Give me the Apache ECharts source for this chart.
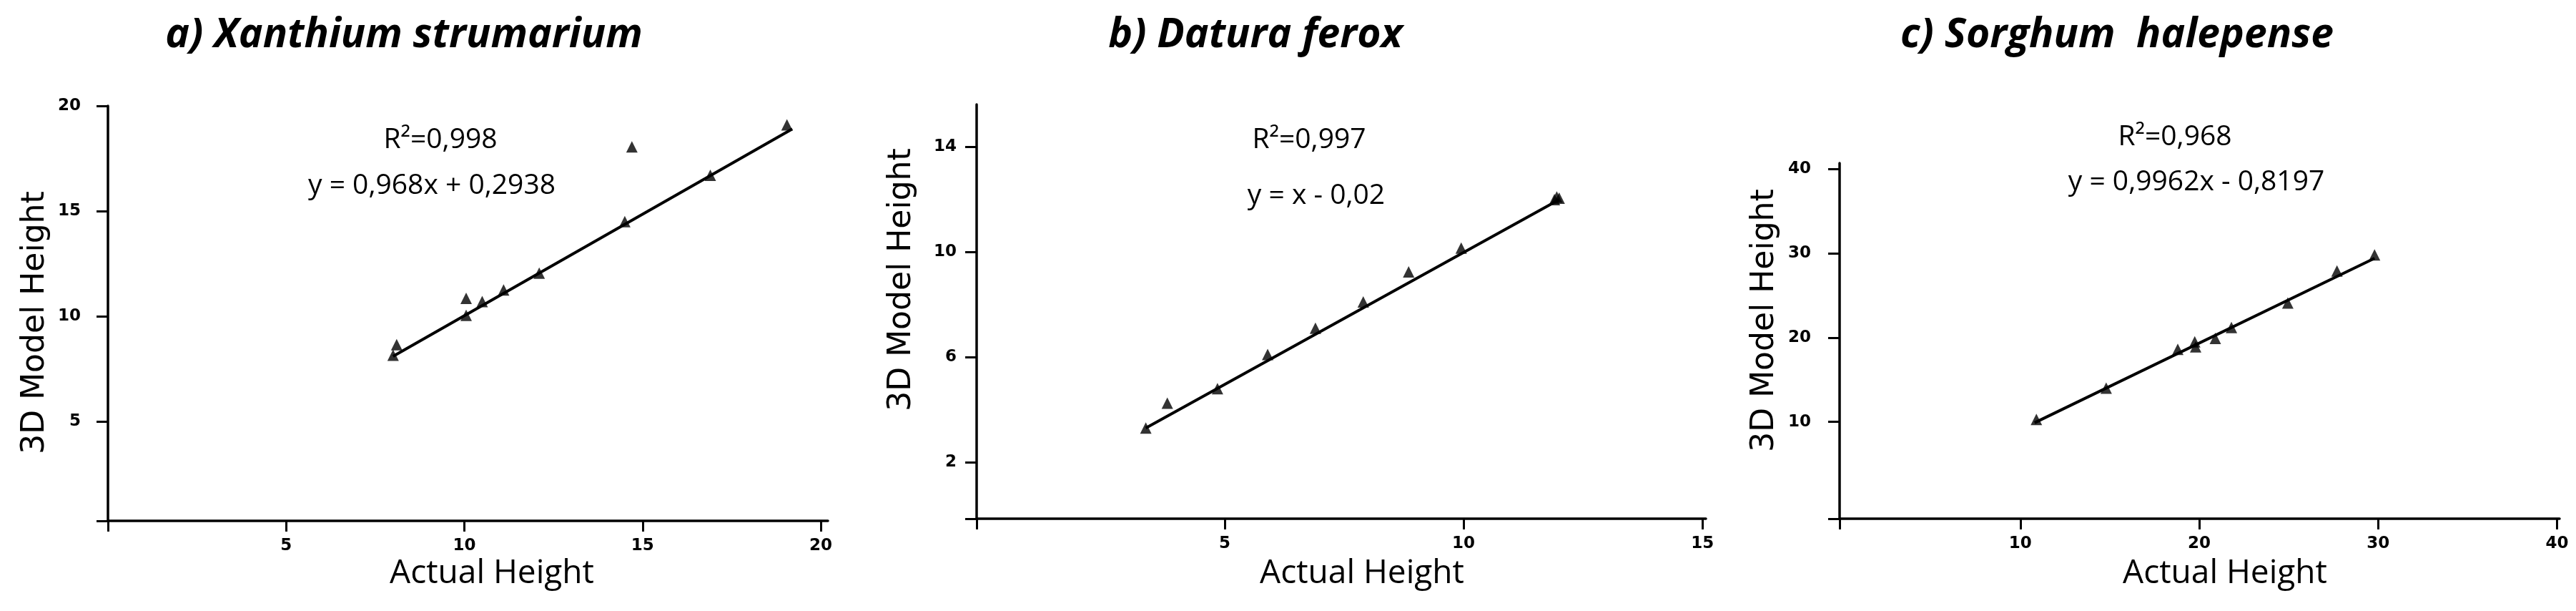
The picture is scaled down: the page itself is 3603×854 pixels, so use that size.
<!DOCTYPE html>
<html>
<head>
<meta charset="utf-8">
<script src="https://cdn.jsdelivr.net/npm/echarts@6/dist/echarts.min.js"></script>
<style>
  html, body { margin: 0; padding: 0; background: #fff; }
  #chart { width: 3603px; height: 854px; }
</style>
</head>
<body>
<div id="chart"></div>
<script>
// a) Xanthium strumarium
const aActual = [8.0, 8.1, 10.05, 10.05, 10.5, 11.1, 12.1, 14.5, 14.7, 16.9, 19.05];
const aModel  = [8.15, 8.65, 10.85, 10.05, 10.7, 11.25, 12.05, 14.5, 18.05, 16.7, 19.1];
const aFitX = [8.0, 19.2];
const aFitY = [8.1, 18.9];
const aXLabels = [5, 10, 15, 20];
const aYLabels = [5, 10, 15, 20];

// b) Datura ferox
const bActual = [3.35, 3.8, 4.85, 5.9, 6.9, 7.9, 8.85, 9.95, 11.9, 11.95, 12.0];
const bModel  = [3.3, 4.25, 4.8, 6.1, 7.1, 8.1, 9.25, 10.15, 12.0, 12.1, 12.05];
const bFitX = [3.35, 12.0];
const bFitY = [3.3, 12.0];
const bXLabels = [5, 10, 15];
const bYLabels = [2, 6, 10, 14];

// c) Sorghum halepense
const cActual = [10.9, 14.8, 18.8, 19.75, 19.8, 20.9, 21.8, 24.95, 27.7, 29.8];
const cModel  = [10.3, 14.0, 18.6, 19.5, 18.9, 19.9, 21.2, 24.1, 27.9, 29.8];
const cFitX = [10.8, 29.8];
const cFitY = [9.9, 29.4];
const cXLabels = [10, 20, 30, 40];
const cYLabels = [10, 20, 30, 40];

const titles = ['a) Xanthium strumarium', 'b) Datura ferox', 'c) Sorghum  halepense'];
const r2Texts = ['R²=0,998', 'R²=0,997', 'R²=0,968'];
const eqTexts = ['y = 0,968x + 0,2938', 'y = x - 0,02', 'y = 0,9962x - 0,8197'];

const panels = [
  { xs: aActual, ys: aModel, fx: aFitX, fy: aFitY, xl: aXLabels, yl: aYLabels,
    grid: { left: 151, top: 148, width: 1007, height: 580 }, xr: [0, 20.2], yr: [0.28, 20], ym: 38 },
  { xs: bActual, ys: bModel, fx: bFitX, fy: bFitY, xl: bXLabels, yl: bYLabels,
    grid: { left: 1366, top: 146, width: 1020, height: 579 }, xr: [-0.19, 15.07], yr: [-0.15, 15.62], ym: 28 },
  { xs: cActual, ys: cModel, fx: cFitX, fy: cFitY, xl: cXLabels, yl: cYLabels,
    grid: { left: 2573, top: 228, width: 1007, height: 497 }, xr: [-0.1, 40.14], yr: [-1.48, 40.68], ym: 40 }
];

// text anchors (centre points) for each panel
const txtPos = [
  { t: [565, 50], r2: [616, 196], eq: [604, 260], ax: [688, 802], ay: [50, 451] },
  { t: [1756, 50], r2: [1831, 196], eq: [1841, 274], ax: [1905, 802], ay: [1262, 391] },
  { t: [2961, 50], r2: [3042, 192], eq: [3072, 255], ax: [3112, 802], ay: [2469, 448] }
];

const line = { lineStyle: { color: '#000', width: 3.5 } };
const tickFont = { color: '#000', fontFamily: 'DejaVu Sans', fontWeight: 'bold', fontSize: 23 };

const grid = [], xAxis = [], yAxis = [], series = [], graphic = [];
panels.forEach((p, i) => {
  grid.push(Object.assign({ outerBoundsMode: 'none' }, p.grid));
  xAxis.push({
    type: 'value', gridIndex: i, min: p.xr[0], max: p.xr[1],
    axisLine: Object.assign({ onZero: false }, line),
    axisTick: { length: 15, lineStyle: { color: '#000', width: 3 }, customValues: [p.xr[0]].concat(p.xl) },
    axisLabel: Object.assign({ margin: 24, customValues: p.xl }, tickFont),
    splitLine: { show: false }
  });
  yAxis.push({
    type: 'value', gridIndex: i, min: p.yr[0], max: p.yr[1],
    axisLine: Object.assign({ onZero: false }, line),
    axisTick: { length: 16, lineStyle: { color: '#000', width: 3 }, customValues: [p.yr[0]].concat(p.yl) },
    axisLabel: Object.assign({ margin: p.ym, customValues: p.yl }, tickFont),
    splitLine: { show: false }
  });
  series.push({
    type: 'line', xAxisIndex: i, yAxisIndex: i, symbol: 'none', silent: true,
    lineStyle: { color: '#000', width: 4 },
    data: p.fx.map((x, k) => [x, p.fy[k]])
  });
  series.push({
    type: 'scatter', xAxisIndex: i, yAxisIndex: i, symbol: 'triangle', symbolSize: 16,
    itemStyle: { color: '#000' },
    data: p.xs.map((x, k) => [x, p.ys[k]])
  });

  const tp = txtPos[i];
  graphic.push({ type: 'text', x: tp.t[0], y: tp.t[1],
    style: { text: titles[i], font: 'italic bold 57px "Open Sans"', fill: '#000', align: 'center', verticalAlign: 'middle' } });
  graphic.push({ type: 'text', x: tp.r2[0], y: tp.r2[1],
    style: { text: r2Texts[i], font: '39px "Open Sans"', fill: '#000', align: 'center', verticalAlign: 'middle' } });
  graphic.push({ type: 'text', x: tp.eq[0], y: tp.eq[1],
    style: { text: eqTexts[i], font: '39px "Open Sans"', fill: '#000', align: 'center', verticalAlign: 'middle' } });
  graphic.push({ type: 'text', x: tp.ax[0], y: tp.ax[1],
    style: { text: 'Actual Height', font: '46px "Open Sans"', fill: '#000', align: 'center', verticalAlign: 'middle' } });
  graphic.push({ type: 'text', x: tp.ay[0], y: tp.ay[1], rotation: Math.PI / 2,
    style: { text: '3D Model Height', font: '44px "DejaVu Sans"', fill: '#000', align: 'center', verticalAlign: 'middle' } });
});

const myChart = echarts.init(document.getElementById('chart'));
myChart.setOption({
  animation: false,
  backgroundColor: '#fff',
  grid: grid,
  xAxis: xAxis,
  yAxis: yAxis,
  series: series,
  graphic: graphic
});
window.addEventListener('resize', () => { myChart.resize(); });
</script>
</body>
</html>
